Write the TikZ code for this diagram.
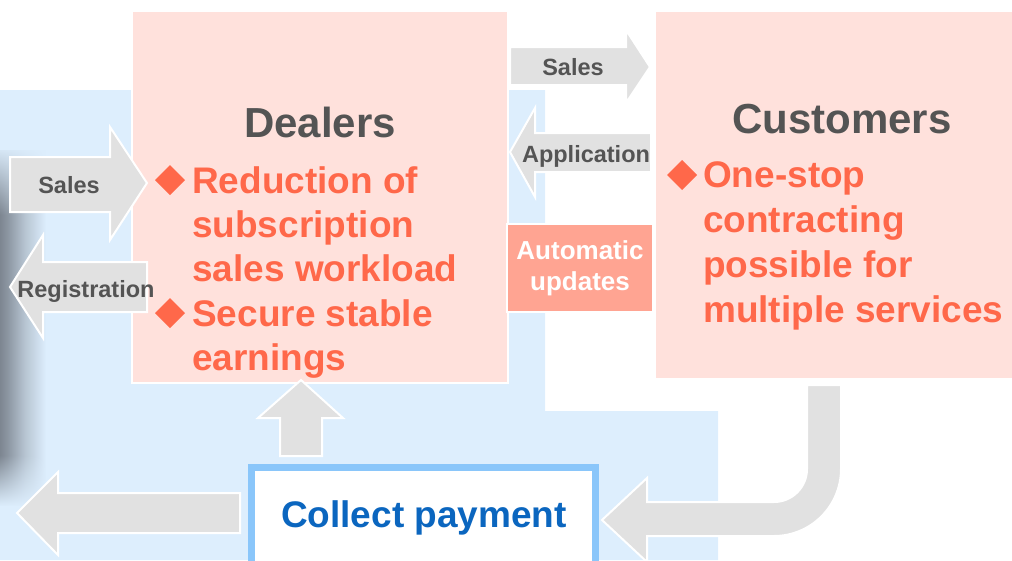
\documentclass[tikz,border=0pt]{standalone}
\usepackage{fontspec}
\setmainfont{Liberation Sans}
\usetikzlibrary{fadings}

\definecolor{bgblue}{RGB}{221,238,253}
\definecolor{boxpink}{RGB}{255,225,220}
\definecolor{bulletred}{RGB}{255,104,74}
\definecolor{titlegray}{RGB}{84,84,84}
\definecolor{arrowgray}{RGB}{225,225,225}
\definecolor{autosalmon}{RGB}{255,164,146}
\definecolor{payblue}{RGB}{11,102,191}
\definecolor{payborder}{RGB}{138,198,250}
\definecolor{edgeshadow}{RGB}{125,134,145}

% left edge shadow: dark core, then a soft falloff into the backdrop
\pgfdeclarehorizontalshading{edgeshade}{100bp}{%
  color(0bp)=(edgeshadow); color(25bp)=(edgeshadow); color(33bp)=(edgeshadow!85!bgblue);
  color(52bp)=(edgeshadow!40!bgblue); color(75bp)=(bgblue); color(100bp)=(bgblue)}

\tikzset{
  blockarrow/.style={fill=arrowgray, draw=white, line width=2pt, line join=miter},
  arrowlabel/.style={inner sep=0pt, anchor=base, text=titlegray,
    font=\bfseries\fontsize{23.5}{28}\selectfont},
  panel/.style={fill=boxpink, draw=white, line width=1.5pt},
  paneltitle/.style={inner sep=0pt, anchor=base, text=titlegray,
    font=\bfseries\fontsize{42}{48}\selectfont},
  pointtext/.style={inner sep=0pt, anchor=base west, text=bulletred,
    font=\bfseries\fontsize{37}{44}\selectfont},
  bulletmark/.style={fill=bulletred, draw=none},
}

\begin{document}
\begin{tikzpicture}[x=1pt,y=-1pt]
\useasboundingbox (0,0) rectangle (1012,560);

% light blue backdrop
\fill[bgblue] (0,90) -- (545,90) -- (545,411) -- (718,411) -- (718,560) -- (0,560) -- cycle;

% soft shadow along the left edge
\shade[shading=edgeshade] (0,150) rectangle (46,505);
\fill[bgblue, path fading=south] (0,145) rectangle (47,215);
\fill[bgblue, path fading=north] (0,455) rectangle (47,506);

% panels
\path[panel] (132,11) rectangle (508,383);
\path[panel] (655,11) rectangle (1014,379);

% Dealers panel text
\node[paneltitle] (dealers) at (320,137) {Dealers};
\fill[bulletmark] (170,165) -- (185,180) -- (170,195) -- (155,180) -- cycle;
\node[pointtext] (d1) at (192,193) {Reduction of};
\node[pointtext] (d2) at (192,237) {subscription};
\node[pointtext] (d3) at (192,281) {sales workload};
\fill[bulletmark] (170,298) -- (185,313) -- (170,328) -- (155,313) -- cycle;
\node[pointtext] (d4) at (192,326) {Secure stable};
\node[pointtext] (d5) at (192,370) {earnings};

% Customers panel text
\node[paneltitle] (customers) at (842,133) {Customers};
\fill[bulletmark] (682,160) -- (697,175) -- (682,190) -- (667,175) -- cycle;
\node[pointtext] (c1) at (703,187) {One-stop};
\node[pointtext] (c2) at (703,232) {contracting};
\node[pointtext] (c3) at (703,277) {possible for};
\node[pointtext] (c4) at (703,322) {multiple services};

% Sales: dealers to customers
\path[blockarrow] (510,47) -- (626,47) -- (626,30) -- (650,67) -- (626,103) -- (626,85) -- (510,85) -- cycle;
\node[arrowlabel] (salesR) at (573,75) {Sales};

% Application: customers to dealers
\path[blockarrow] (651,133) -- (535,133) -- (535,108) -- (510,152) -- (535,197) -- (535,172) -- (651,172) -- cycle;
\node[arrowlabel] (appl) at (586,162) {Application};

% Automatic updates
\node[fill=autosalmon, draw=white, line width=1.5pt, minimum width=146pt, minimum height=88pt,
      inner sep=0pt, align=center, text=white,
      font=\bfseries\fontsize{26}{31}\selectfont] (auto) at (580,268) {Automatic\\updates};

% Sales into dealers from the left
\path[blockarrow] (10,157) -- (110,157) -- (110,127) -- (147,183) -- (110,240) -- (110,212) -- (10,212) -- cycle;
\node[arrowlabel] (salesL) at (69,193) {Sales};

% Registration out of dealers to the left
\path[blockarrow] (147,262) -- (43,262) -- (43,235) -- (10,287) -- (43,338) -- (43,312) -- (147,312) -- cycle;
\node[arrowlabel] (regist) at (86,297) {Registration};

% Collect payment box
\node[fill=white, draw=payborder, line width=7pt, minimum width=344pt, minimum height=110pt,
      inner sep=0pt] (paybox) at (423.5,522.5) {};
\node[inner sep=0pt, anchor=base, text=payblue, font=\bfseries\fontsize{37}{44}\selectfont]
      (pay) at (424,527) {Collect payment};

% payment flows up to dealers
\path[blockarrow] (301,380) -- (343,418) -- (322,418) -- (322,456) -- (280,456) -- (280,418) -- (258,418) -- cycle;

% payment flows out to the left
\path[blockarrow] (240,493) -- (58,493) -- (58,472) -- (17,513) -- (58,555) -- (58,533) -- (240,533) -- cycle;

% customers pay into collection
\path[blockarrow] (807,385) -- (841,385) -- (841,469) arc[start angle=0, end angle=90, radius=67]
  -- (647,536) -- (647,562) -- (602,520) -- (647,478) -- (647,502) -- (774,502)
  arc[start angle=90, end angle=0, radius=33] -- cycle;
\end{tikzpicture}
\end{document}
